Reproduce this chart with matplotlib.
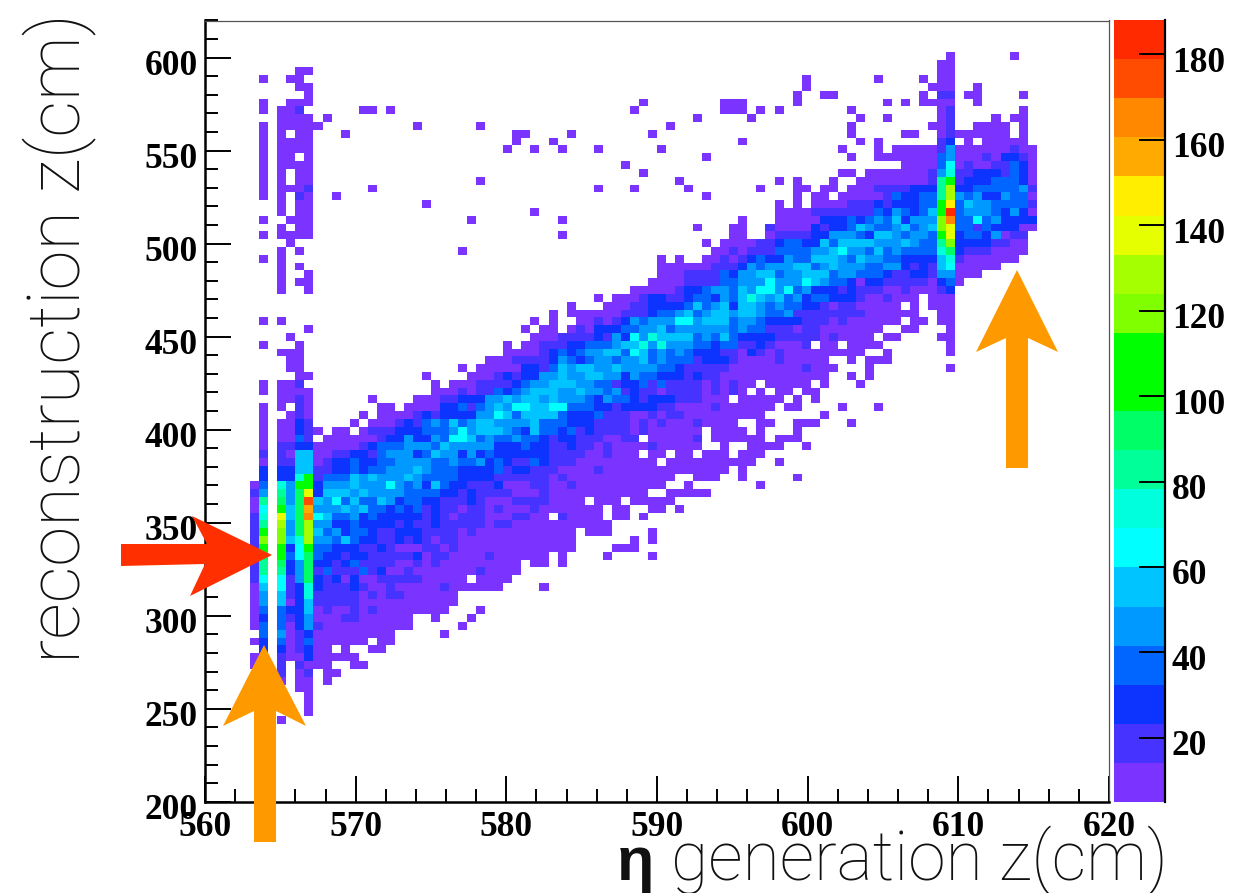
import numpy as np
from matplotlib import pyplot as plt
from matplotlib.colors import ListedColormap, BoundaryNorm
from matplotlib.patches import Polygon
from matplotlib.ticker import MultipleLocator
from matplotlib.transforms import ScaledTranslation

# 100 x 100 bins, x 560-620, y 200-620
x_edges = np.linspace(560, 620, 101)
y_edges = np.linspace(200, 620, 101)

z_min = 5.0
z_max = 188.0

palette = ['#7b33ff', '#4733ff', '#0d33ff', '#0066ff', '#0099ff', '#00c4ff', '#00ffff',
           '#00ffdd', '#00ff99', '#00ff66', '#00ff00', '#00ff00', '#7fff00', '#a5ff00',
           '#e5ff00', '#ffee00', '#ffaa00', '#ff8800', '#ff4c00', '#ff2a00']

x_ticks = [560, 570, 580, 590, 600, 610, 620]
y_ticks = [200, 250, 300, 350, 400, 450, 500, 550, 600]
z_ticks = [20, 40, 60, 80, 100, 120, 140, 160, 180]

# colour level per bin, one string per row starting at row 4 from the top.
# "col:levels" means consecutive bins from that column on, levels 1-9 then a-k
first_row = 4
hist_rows = [
    "89:1 82:1",
    "81:11",
    "10:11 81:11",
    "6:1 9:11 66:1 74:1 79:1 81:11",
    "10:11 66:1 80:111 85:1",
    "11:1 65:1 68:11 79:1 81:22 84:11 90:1",
    "6:1 9:111 48:1 57:111 65:1 75:1 77:1 79:1111 85:1",
    "6:1 8:112 17:11 20:1 47:1 57:111 61:1 63:1 71:1 81:12 90:1",
    "8:1111 13:1 54:1 60:1 72:1 75:1 81:12 87:1 89:11",
    "6:1 8:11111 23:1 30:1 51:1 71:1 80:11 82:2 85:1111 90:1",
    "6:1 8:1 10:11 15:1 34:11 40:1 49:1 71:1 77:11 81:12 83:111111 90:1",
    "6:1 8:1111 34:1 38:1 59:1 72:1 74:1 81:23 84:1 86:11111",
    "6:1 8:1111 33:1 36:1 39:1 43:1 50:1 70:1 74:1 76:11111 81:25 83:111111 89:2 90:11",
    "6:1 8:11 11:1 55:1 71:1 74:1111111 81:45 83:111 86:2 87:1 88:33 90:2 91:1",
    "6:1 8:1111 46:1 77:1111 81:47 83:1 84:2 85:11 87:22 89:4 90:3 91:1",
    "6:1 8:1 10:11 48:1 70:11 73:1111111 80:2 81:58 83:22 85:333 88:2 89:4 90:3 91:1",
    "6:1 8:1 10:11 30:1 52:1 63:1 65:1 69:1 72:11111111 80:2 81:9b 83:23 85:3344 89:4 90:3 91:1",
    "6:1 8:111 11:2 18:1 43:1 47:1 53:1 61:1 65:11 68:11 71:111 74:2222 78:333 81:9e 83:33 85:44444 90:5 91:2",
    "6:1 8:1 10:21 14:1 55:1 65:1 67:11 70:11111 75:2 76:4 77:33 79:44 81:9e 83:545 86:33 88:5 89:44 91:1",
    "8:1 10:11 24:1 63:1 65:1 67:1111 71:222 74:3 75:2 76:333 79:44 81:bg 83:46 85:55 87:4444 91:2",
    "8:1 10:11 36:1 63:1111 67:2222222 74:4 75:3 76:5 77:4 78:3 79:4 80:6 81:bk 83:4 84:555 87:4 88:3 89:5 90:3 91:1",
    "6:1 9:111 29:1 39:1 59:1 63:11111 68:333 71:434546 77:3 78:555 81:di 83:44 85:745 88:333 91:3",
    "8:1 10:11 54:1 58:11 62:2 63:1111 67:3 68:2 69:33 71:4 72:65 74:44 76:56 78:45 80:6 81:df 83:44 85:2 86:4 87:333 90:11",
    "6:1 8:1111 39:1 58:11 62:1 63:2222 67:33 69:555 72:43 74:66 76:5455 80:4 81:bf 83:3 84:44 86:3 87:5 88:1 89:22",
    "9:1 55:1 57:1111 61:22 63:3 64:44 66:33 68:64 70:6666 74:555 77:65 79:44 81:9d 83:3333 87:22 89:11",
    "8:1 10:1 28:1 56:11 58:21 60:2 61:22 63:4444 67:55 69:67 71:55 73:4 74:6 75:4 76:5 77:4444 81:8a 83:3 84:222 87:1111",
    "6:1 8:1 50:1 52:1 55:11 57:2 58:1 59:2 60:3 61:4 62:33 64:5 65:44 67:666 70:5 71:4 72:6 73:55 75:44 77:3333 81:68 83:2 84:111111",
    "8:1 10:1 50:111111 56:222 59:3 60:5 61:4 62:555 65:66 67:4 68:5 69:6 70:555 73:44 75:55 77:3 78:2 79:3 80:2 81:67 83:11111",
    "8:1 11:1 50:111 53:2222 57:4 58:3 59:55 61:66 63:45 65:566 68:6 69:4 70:55 72:444 75:3 76:22 78:33 80:2 81:55 83:111",
    "8:1 10:11 49:1111 53:2222 57:44 59:55 61:5 62:7 63:555 66:7 67:6 68:5 69:44 71:3 72:1 73:33 75:22222 80:1 81:34 83:1",
    "8:1 11:1 47:11111 52:2 53:33 55:4 56:55 58:4 59:6 60:5 61:77 63:5 64:7 65:4 66:5 67:333 70:2 71:3 72:222 75:11 77:2 78:111 81:23",
    "43:1 45:111 48:2 49:33 51:22 53:3 54:44 56:3 57:5 58:4 59:6 60:8 61:656 64:453 67:44 69:333 72:2 73:11 75:2 76:111 80:111",
    "40:1 44:111 47:22 49:3333 53:4 54:6 55:4 56:5 57:6 58:3 59:667 61:545 64:44 66:33 68:2 69:1 70:22 72:11111 78:1 80:111",
    "38:1 40:111111 46:222 49:3 50:44 52:5 53:6 54:4 55:5 56:66 58:5 59:66 61:5 62:44 64:5 65:22222222 73:111111 81:11",
    "6:1 8:1 36:1 38:1 41:11 43:2 44:1 45:2 46:3 47:5 48:4 49:555 52:77 54:5 55:666 58:4 59:55 61:4 62:3333 66:222 69:1 70:2 71:111111 78:11 81:11",
    "11:1 35:1 37:11 40:1 41:2 42:1 43:333 46:44 48:55 50:6 51:4 52:555555 58:4 59:5 60:4 61:4 62:222 65:1 66:22 68:1111111 77:11 82:1",
    "9:1 36:111 39:2222 43:3 44:2 45:5 46:3 47:7 48:5 49:8 50:6666 54:4 55:5 56:4 57:6 58:4 59:333 62:3 63:2 64:2222 68:1 69:2 70:1111 75:11 81:11",
    "6:1 10:1 33:1 35:11 37:222 40:33 42:444 45:5 46:66 48:8 49:5 50:8 51:555 54:44 56:3 57:44 59:22 61:3 62:2 63:111 66:2 68:11 71:1111 82:1",
    "8:111 33:1111 37:2 38:3 39:4 40:3 41:4 42:55 44:66 46:4 47:7 48:6 49:4 50:5 51:4 52:5 53:4 54:333 57:22 59:1 60:3 61:2 62:1 63:2 64:111111111 75:1 82:1",
    "9:11 31:111 34:2222 38:3 39:5 40:4 41:3 42:4 43:55 45:4 46:55 48:6 49:4 50:5 51:44 53:4 54:2 55:333 58:2 59:11 61:11 63:2 64:11111 71:1 73:111",
    "9:11 28:1 30:11111 35:33 37:2 38:4 39:6 40:5 41:66 43:55 45:6 46:5555 50:44 52:3 53:22222 58:111 61:11111 66:2 67:111 73:1 82:1",
    "10:11 24:1 29:111 32:2 33:3 34:2 35:33 37:55 39:6 40:55 42:66 44:55 46:3 47:5 48:44 50:333 53:2 54:3 55:22 57:111111111111 71:1 73:1",
    "6:1 8:11 10:2 25:1 27:111 30:2222 34:3 35:4 36:55 38:666 41:55 43:44 45:2 46:33 48:4 49:2 50:4 51:2222 55:1 56:2 57:1 58:2 59:11 62:11111 68:1 72:1",
    "6:1 8:1111 25:111 28:2 29:1 30:22 32:4 33:3 34:4 35:5 36:666 39:55 41:6 42:55 44:4 45:5 46:2 47:3 48:22 50:1 51:2222 55:1 56:2 57:1 58:2 59:1 61:1 63:11 66:11",
    "8:11 10:2 11:1 18:1 23:111 26:22 28:33 30:3 31:55 33:6 34:5 35:66 37:5 38:6 39:555 42:4 43:3 44:5 45:44 47:3 48:2 49:333 52:222 55:111 59:11111 65:1 67:1",
    "6:1 8:1 10:2 11:1 19:11 22:1111 26:33 28:4 29:2 30:4 31:5 32:6 33:5 34:77 36:66 38:77 40:444 43:33 45:2 46:3333 50:22 52:1111 56:2 57:111111 64:11 70:1 74:1",
    "6:1 9:1 10:2 11:1 17:1 19:1111 23:2 24:3 25:2 26:33 28:3 29:3 30:55 32:7 33:6 34:4 35:6666 39:4 40:333 43:4 44:222 47:11 49:2 50:1 51:22 53:111111111 68:1",
    "6:1 8:11 10:32 16:1 18:111 21:2 22:3 23:2 24:4 25:5 26:4 27:6 28:4 29:5 30:66 32:5555 36:6 37:444 40:333 43:2222 47:1 48:2 49:1 50:2 51:111 54:2 55:1111 61:11 65:111 71:1",
    "6:1 8:11 10:32 12:1 14:11 17:1 18:222 21:33 23:3 24:44 26:4 27:5 28:7 29:5 30:666 33:5 34:4 35:3 36:6 37:44 39:3 40:4 41:2 42:3 43:2222 47:1 48:2 49:111111 56:1111 61:1 65:1",
    "6:1 8:11 10:42 13:11111 18:1 19:2 20:33 22:5 23:33 25:5 26:4 27:77 29:6 30:4 31:5 32:44 34:5 35:44 37:3 38:2 39:33 41:222 44:11 46:22 49:11111 54:2 56:111111 63:111",
    "6:1 8:22 10:33 12:11111 17:2 18:3 19:444 22:555 25:4 26:6 27:5 28:55 30:55 32:333 35:4 36:33 38:22 40:3 41:22 43:1 44:2 45:1111 49:2 50:11111 57:1 60:1111 66:1",
    "6:2 8:21 10:66 12:11 14:22 16:33 18:2 19:4 20:555 23:3 24:4 25:6 26:55 28:3 29:5 30:34 32:333333 38:2222 42:11 44:2 45:111 49:11 52:11 55:111 59:111",
    "6:1 8:22 10:66 12:1 13:2 14:33 16:4 17:33 19:44 21:555 24:5 25:44 27:5 28:44 30:5 31:3 32:4 33:3 34:22 36:4 37:3 38:222 41:111111111 51:1111111111 63:1",
    "6:3 8:33 10:66 12:22 14:33 16:4 17:3 18:44 20:555 23:6 24:5 25:444 28:33 30:33 32:4 33:2 34:33 36:222 39:1111 43:2 44:11111111111111 59:1",
    "6:3 8:33 10:8b 12:2 13:444 16:6 17:5 18:6 19:555 22:6 23:5 24:4444 28:33 30:33 32:222222 38:1 39:2 40:111111111111 54:111 59:1 65:1",
    "5:1 6:4 8:85 10:bb 12:3 13:555 16:6 17:55 19:5 20:7 21:5 22:4 23:5 24:3 25:6 26:4 27:33 29:2 30:22 32:3 33:11 35:1 36:22 38:11 40:2 41:1111111111 53:1 61:1",
    "5:2 6:5 8:95 10:af 12:3 13:666 16:5 17:6 18:5555 22:44 24:4 25:4 26:33 28:2 29:3 30:2222 34:111 37:2 38:11111111111 51:11111",
    "5:1 6:9 8:a5 10:aj 12:6 13:5 14:7 15:4 16:6 17:44 19:6 20:5 21:3 22:44 24:3 25:3 26:222 29:3 30:2 31:111 34:2222 38:1111 43:111 47:11111",
    "5:1 6:7 8:b6 10:ah 12:55 14:5 15:6 16:5 17:6 18:44 20:3 21:4 22:3 23:4 24:2 25:3 26:22 28:1 29:22 31:1 32:2 33:111 36:2 37:1111111 45:11 49:11 52:1",
    "5:2 6:8 8:f6 10:ai 12:7 13:6 14:44 16:5 17:3 18:4 19:33333 24:2 25:3 26:2 27:1 28:222 31:111 34:22 36:11 39:2 40:1111 45:11 48:1",
    "5:2 6:9 8:e5 10:ae 12:55 14:33 16:4 17:333 20:3 21:2 22:3 23:22 25:3 26:22222 31:1 32:22 34:11111111111",
    "5:2 6:b 8:d5 10:ae 12:6 13:4 14:5 15:3 16:44 18:3 19:22 21:3 22:33 24:2 25:222 28:1 29:2 30:11111111111 42:111 49:1",
    "5:2 6:d 8:d6 10:8e 12:55 14:4 15:6 16:4 17:33 19:22 21:3 22:2 23:3 24:2 25:1 26:22 28:1111111111111 47:1 49:1",
    "5:2 6:b 8:b3 10:7b 12:44 14:333 17:22 19:3 20:2 21:111 24:2 25:2 26:1 27:2 28:1111111111111 45:111",
    "5:2 6:a 8:b4 10:7a 12:4 13:33 15:2 16:33 18:22222 23:3 24:1 25:22 27:1111 31:2 32:111111 39:1 44:1 49:1",
    "5:2 6:9 8:a3 10:5a 12:33 14:2 15:3 16:4 17:2222 21:11 23:2 24:1 25:2 26:111111111 36:11 39:1",
    "5:2 6:9 8:93 10:5a 12:2 13:4 14:222 17:4 18:2 19:3 20:11 22:2 23:1 24:1 25:11111 30:2 31:1111",
    "5:2 6:7 8:72 10:5a 12:3 13:2 14:3 15:1 16:3 17:11 19:22222 24:1 25:1111 30:1111",
    "5:1 6:6 8:72 10:38 12:3 13:222 16:3 17:2 18:11 20:2 21:111 24:1 25:1 26:2 27:111111 37:1",
    "5:1 6:5 8:62 10:38 12:22222 17:1 18:2 19:1 20:22 22:111 25:111",
    "5:1 6:5 8:61 10:36 12:22222 17:11111111 25:111",
    "5:1 6:4 8:43 10:36 12:1 13:2 14:11 16:2 17:1 18:2 19:111111 25:11 30:1",
    "5:1 6:3 8:42 10:35 12:111 15:22 17:111111 25:1 29:1",
    "5:1 6:4 8:41 10:35 12:2 13:1111111111 28:1",
    "6:4 8:51 10:23 12:111111111 26:1",
    "5:1 6:3 8:41 10:24 12:111111 19:11",
    "6:3 8:31 10:23 12:11 15:1 18:11",
    "5:11 8:21 10:13 12:11111",
    "5:11 8:2 10:21 12:11 16:11",
    "8:2 10:12 13:11",
    "8:1 10:11 13:1",
    "10:11",
    "11:1",
    "11:1",
    "11:1",
    "8:1",
]


def read_counts():
    # turn the level strings into a count per bin (middle of each colour band)
    step = (z_max - z_min) / len(palette)
    counts = np.zeros((100, 100))
    for i, row in enumerate(hist_rows):
        for part in row.split():
            col, levels = part.split(':')
            for k, ch in enumerate(levels):
                counts[99 - first_row - i, int(col) + k] = z_min + (int(ch, 36) - 0.5) * step
    return np.ma.masked_equal(counts, 0)


def shift_labels(labels, fig, dy_px):
    offset = ScaledTranslation(0, dy_px / fig.dpi, fig.dpi_scale_trans)
    for label in labels:
        label.set_transform(label.get_transform() + offset)


def plot_hist():
    W, H = 1235, 893
    fig = plt.figure(figsize=(W / 100, H / 100), dpi=100)
    num_font = {'family': 'Liberation Serif', 'weight': 'bold', 'size': 25.5}

    ax = fig.add_axes([205 / W, 1 - 801.7 / H, (1109 - 205) / W, (801.7 - 20.5) / H])
    cmap = ListedColormap(palette)
    norm = BoundaryNorm(np.linspace(z_min, z_max, len(palette) + 1), len(palette))
    mesh = ax.pcolormesh(x_edges, y_edges, read_counts(), cmap=cmap, norm=norm)

    ax.set_xlim(560, 620)
    ax.set_ylim(200, 620)
    ax.set_xticks(x_ticks)
    ax.set_yticks(y_ticks)
    ax.xaxis.set_minor_locator(MultipleLocator(2))
    ax.yaxis.set_minor_locator(MultipleLocator(10))
    ax.tick_params(which='major', direction='in', length=19, width=1.4, pad=7)
    ax.tick_params(which='minor', direction='in', length=9.5, width=1.4)
    ax.tick_params(axis='y', which='major', pad=5)
    ax.set_xticklabels([str(v) for v in x_ticks], **num_font)
    ax.set_yticklabels([str(v) for v in y_ticks], **num_font)
    shift_labels(ax.get_yticklabels(), fig, -5)
    for side in ['left', 'bottom']:
        ax.spines[side].set_linewidth(1.8)
    for side in ['top', 'right']:
        ax.spines[side].set_linewidth(0.9)
        ax.spines[side].set_color('#555555')

    cax = fig.add_axes([1114 / W, 1 - 802 / H, (1165 - 1114) / W, (802 - 20) / H])
    cbar = fig.colorbar(mesh, cax=cax, ticks=z_ticks, spacing='proportional', drawedges=False)
    cbar.outline.set_visible(False)
    cax.minorticks_off()
    cax.axvline(1, color='k', lw=1.6, clip_on=False)
    cax.tick_params(direction='in', length=19, width=1.4, pad=5)
    cax.set_yticklabels([str(v) for v in z_ticks], **num_font)
    shift_labels(cax.get_yticklabels(), fig, -5)

    # annotation layer in picture pixels
    top = fig.add_axes([0, 0, 1, 1], facecolor='none')
    top.set_xlim(0, W)
    top.set_ylim(H, 0)
    top.axis('off')
    orange = '#ff9900'
    red = '#ff2f00'
    top.add_patch(Polygon([(264, 645), (306, 726), (276, 711), (276, 842), (254, 842), (254, 711), (223, 726)],
                          fc=orange, ec='none'))
    top.add_patch(Polygon([(1017, 270), (1058, 352), (1028, 338), (1028, 468), (1006, 468), (1006, 338), (976, 352)],
                          fc=orange, ec='none'))
    top.add_patch(Polygon([(272, 555), (190, 596), (205, 564), (121, 566), (121, 544), (207, 544), (192, 516)],
                          fc=red, ec='none'))

    label_font = {'family': 'Roboto', 'weight': 'light', 'color': '#111111'}
    top.text(80, 338, 'reconstruction z(cm)', rotation=90, ha='center', va='baseline',
             rotation_mode='anchor', fontsize=52, **label_font)
    top.text(1168, 880, 'generation z(cm)', ha='right', va='baseline', fontsize=49, **label_font)
    top.text(617, 880, '\u03b7', ha='left', va='baseline', fontsize=44, family='Liberation Sans', weight='bold', color='#111111')

    fig.savefig('out.png', dpi=100)


def main():
    plot_hist()


if __name__ == "__main__":
    main()
